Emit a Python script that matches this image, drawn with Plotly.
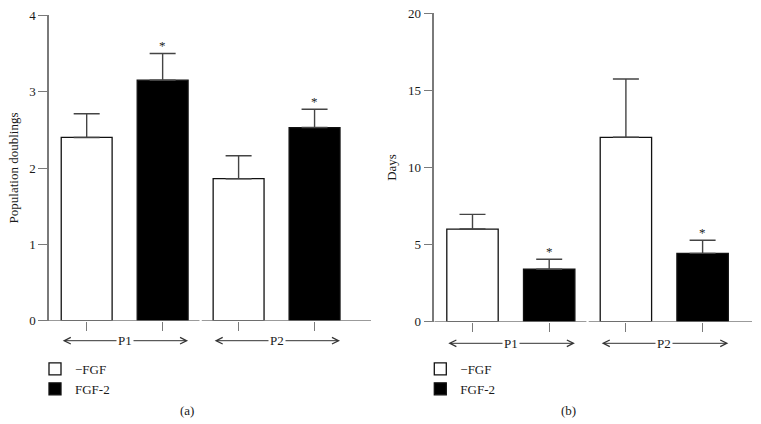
import plotly.graph_objects as go

# ---- data ----
groups = ["P1", "P2"]
series = ["\u2212FGF", "FGF-2"]
# panel (a): population doublings
a_ctrl = [2.40, 1.86]
a_ctrl_err = [2.71, 2.16]   # top of error bar
a_fgf = [3.15, 2.53]
a_fgf_err = [3.50, 2.77]
a_sig = [True, True]
a_yticks = [0, 1, 2, 3, 4]
# panel (b): days
b_ctrl = [6.01, 11.96]
b_ctrl_err = [6.96, 15.74]
b_fgf = [3.40, 4.43]
b_fgf_err = [4.05, 5.28]
b_sig = [True, True]
b_yticks = [0, 5, 10, 15, 20]

W, H = 761, 424
FONT = "Liberation Serif, Times New Roman, serif"
AXC = "#7a7a7a"
TXT = "#1a1a1a"
BW = 0.67

fig = go.Figure()

panels = [
    dict(ctrl=a_ctrl, ctrl_err=a_ctrl_err, fgf=a_fgf, fgf_err=a_fgf_err, sig=a_sig,
         yticks=a_yticks, ymax=4, title="Population doublings", label="(a)",
         xd=(49, 371), yd=(320.7, 15.3), xr=(-0.496, 3.743), xa="x", ya="y",
         legend="legend", arrow_px=340.7, lab_x=187),
    dict(ctrl=b_ctrl, ctrl_err=b_ctrl_err, fgf=b_fgf, fgf_err=b_fgf_err, sig=b_sig,
         yticks=b_yticks, ymax=20, title="Days", label="(b)",
         xd=(434.3, 752), yd=(321.7, 13.3), xr=(-0.498, 3.644), xa="x2", ya="y2",
         legend="legend2", arrow_px=343.3, lab_x=568),
]

shapes = []
annotations = []
for i, p in enumerate(panels):
    ctrl_x = [2 * g for g in range(len(groups))]
    fgf_x = [2 * g + 1 for g in range(len(groups))]
    for name, xs, vals, errs, color in [
        (series[0], ctrl_x, p["ctrl"], p["ctrl_err"], "white"),
        (series[1], fgf_x, p["fgf"], p["fgf_err"], "black"),
    ]:
        fig.add_trace(go.Bar(
            x=xs, y=vals, width=BW, name=name, xaxis=p["xa"], yaxis=p["ya"],
            legend=p["legend"],
            marker=dict(color=color, line=dict(color="#111111", width=1.3)),
            error_y=dict(type="data", symmetric=False,
                         array=[e - v for e, v in zip(errs, vals)],
                         arrayminus=[0] * len(vals),
                         color="#444444", thickness=1.4, width=13),
        ))
    # significance asterisks
    for g, s in enumerate(p["sig"]):
        if s:
            annotations.append(dict(
                x=fgf_x[g], y=p["fgf_err"][g], xref=p["xa"], yref=p["ya"],
                text="*", showarrow=False, xanchor="center", yanchor="bottom", yshift=-2,
                font=dict(family=FONT, size=13, color=TXT)))
    # broken x-axis line
    xr0, xr1 = p["xr"]
    brk = 1.5
    for x0, x1 in [(xr0, brk - 0.015), (brk + 0.015, xr1)]:
        shapes.append(dict(type="line", xref=p["xa"], yref=p["ya"], x0=x0, x1=x1,
                           y0=0, y1=0, line=dict(color=AXC, width=1.5), layer="above"))
    # group arrows (below the axis, in paper coordinates)
    ay_paper = 1 - p["arrow_px"] / H
    for g, gname in enumerate(groups):
        left = ctrl_x[g] - BW / 2
        right = fgf_x[g] + BW / 2
        annotations.append(dict(
            x=right, y=ay_paper, ax=left, ay=0, xref=p["xa"], yref="paper",
            axref=p["xa"], ayref="pixel", text="", showarrow=True,
            arrowside="end+start", arrowhead=5, arrowsize=1.3, arrowwidth=1,
            arrowcolor="#333333"))
        annotations.append(dict(
            x=(left + right) / 2, y=ay_paper, xref=p["xa"], yref="paper", text=gname,
            showarrow=False, bgcolor="white", borderpad=1,
            xanchor="center", yanchor="middle",
            font=dict(family=FONT, size=13, color=TXT)))
    # panel label
    annotations.append(dict(x=p["lab_x"] / W, y=1 - 410 / H, xref="paper", yref="paper",
                            text=p["label"], showarrow=False,
                            xanchor="center", yanchor="middle",
                            font=dict(family=FONT, size=13, color=TXT)))

layout = dict(
    width=W, height=H, margin=dict(l=0, r=0, t=0, b=0, autoexpand=False),
    paper_bgcolor="white", plot_bgcolor="white",
    barmode="overlay", shapes=shapes, annotations=annotations,
    font=dict(family=FONT, color=TXT),
)
for i, p in enumerate(panels):
    sfx = "" if i == 0 else "2"
    layout["xaxis" + sfx] = dict(
        domain=[p["xd"][0] / W, p["xd"][1] / W], range=list(p["xr"]), automargin=False,
        anchor="y" + sfx, showgrid=False, zeroline=False, showline=False,
        tickvals=[0, 1, 2, 3], ticktext=["", "", "", ""], ticks="outside",
        ticklen=9, tickwidth=1.3, tickcolor=AXC, fixedrange=True)
    layout["yaxis" + sfx] = dict(
        domain=[1 - p["yd"][0] / H, 1 - p["yd"][1] / H], range=[0, p["ymax"]],
        automargin=False,
        anchor="x" + sfx, showgrid=False, zeroline=False, showline=True,
        linecolor=AXC, linewidth=1.5, tickvals=p["yticks"], ticks="outside",
        ticklen=9, tickwidth=1.3, tickcolor=AXC,
        tickfont=dict(family=FONT, size=13, color=TXT),
        title=dict(text=p["title"], font=dict(family=FONT, size=13, color=TXT), standoff=8))
    lg = "legend" + sfx
    layout[lg] = dict(x=(p["xd"][0] - 14) / W, y=1 - 354 / H, xanchor="left", yanchor="top",
                      bgcolor="rgba(0,0,0,0)", font=dict(family=FONT, size=13, color=TXT),
                      itemwidth=30, tracegroupgap=0, traceorder="normal")

fig.update_layout(**layout)
fig.write_html("out.html", config={"displayModeBar": False},
               post_script="document.body.style.margin='0';")
